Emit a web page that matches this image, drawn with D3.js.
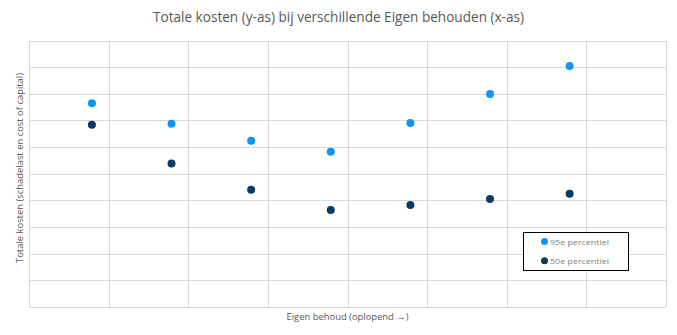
<!DOCTYPE html>
<html>
<head>
<meta charset="utf-8">
<script src="https://cdn.jsdelivr.net/npm/d3@7"></script>
<style>
  html, body { margin: 0; padding: 0; background: #ffffff; }
  svg { display: block; }
</style>
</head>
<body>
<div id="chart"></div>
<script>
// Eigen behoud steps (ascending) and total cost per percentile
const eigenBehoud = [1, 2, 3, 4, 5, 6, 7];
const p95 = [76.5, 68.8, 62.4, 58.3, 69.0, 79.9, 90.4];
const p50 = [68.4, 53.8, 44.0, 36.4, 38.3, 40.5, 42.5];
const xTicks = [0.21, 1.21, 2.21, 3.21, 4.21, 5.21, 6.21, 7.21, 8.21];
const yTicks = [0, 10, 20, 30, 40, 50, 60, 70, 80, 90, 100];
const seriesNames = ["95e percentiel", "50e percentiel"];
const seriesColors = ["#0E96F5", "#0D3A60"];

const W = 677, H = 335;
const margin = { top: 40.5, right: 11, bottom: 28, left: 29 };

const svg = d3.select("#chart").append("svg")
  .attr("width", W).attr("height", H);

const x = d3.scaleLinear().domain([xTicks[0], xTicks[xTicks.length - 1]])
  .range([margin.left, W - margin.right]);
const y = d3.scaleLinear().domain([0, 100])
  .range([H - margin.bottom, margin.top]);

// grid via axes with full-length ticks and no labels
const gx = svg.append("g")
  .attr("transform", `translate(0,${H - margin.bottom})`)
  .call(d3.axisBottom(x).tickValues(xTicks)
    .tickSize(-(H - margin.bottom - margin.top)).tickFormat(""));
const gy = svg.append("g")
  .attr("transform", `translate(${margin.left},0)`)
  .call(d3.axisLeft(y).tickValues(yTicks)
    .tickSize(-(W - margin.right - margin.left)).tickFormat(""));
[gx, gy].forEach(g => {
  g.select(".domain").remove();
  g.selectAll(".tick line").attr("stroke", "#d9d9d9").attr("stroke-width", 1)
    .attr("shape-rendering", "crispEdges");
});

// points
const series = [p95, p50];
series.forEach((vals, i) => {
  svg.append("g").selectAll("circle")
    .data(vals.map((v, k) => ({ x: eigenBehoud[k], y: v })))
    .join("circle")
    .attr("cx", d => x(d.x))
    .attr("cy", d => y(d.y))
    .attr("r", 4)
    .attr("fill", seriesColors[i]);
});

// title
svg.append("text")
  .attr("x", 338.5).attr("y", 22)
  .attr("text-anchor", "middle")
  .attr("font-family", "'Open Sans', sans-serif")
  .attr("font-size", 15)
  .attr("fill", "#595959")
  .attr("textLength", 371).attr("lengthAdjust", "spacingAndGlyphs")
  .text("Totale kosten (y-as) bij verschillende Eigen behouden (x-as)");

// axis titles
svg.append("text")
  .attr("transform", `translate(23,168) rotate(-90)`)
  .attr("text-anchor", "middle")
  .attr("font-family", "'Open Sans', sans-serif")
  .attr("font-size", 9)
  .attr("fill", "#595959")
  .attr("textLength", 190).attr("lengthAdjust", "spacingAndGlyphs")
  .text("Totale kosten (schadelast en cost of capital)");

svg.append("text")
  .attr("x", 347.5).attr("y", 320)
  .attr("text-anchor", "middle")
  .attr("font-family", "'Open Sans', sans-serif")
  .attr("font-size", 9.5)
  .attr("fill", "#595959")
  .attr("textLength", 122).attr("lengthAdjust", "spacingAndGlyphs")
  .text("Eigen behoud (oplopend →)");

// legend
const lg = svg.append("g");
lg.append("rect")
  .attr("x", 523.5).attr("y", 232.5).attr("width", 105).attr("height", 38)
  .attr("fill", "#ffffff").attr("stroke", "#000000").attr("stroke-width", 1);
seriesNames.forEach((name, i) => {
  const cy = 241.5 + i * 19.3;
  lg.append("circle").attr("cx", 544.5).attr("cy", cy).attr("r", 3.5)
    .attr("fill", seriesColors[i]);
  lg.append("text").attr("x", 550).attr("y", cy + 3)
    .attr("font-family", "'Open Sans', sans-serif")
    .attr("font-size", 7.5).attr("fill", "#7f7f7f")
    .attr("textLength", 59).attr("lengthAdjust", "spacingAndGlyphs")
    .text(name);
});
</script>
</body>
</html>
